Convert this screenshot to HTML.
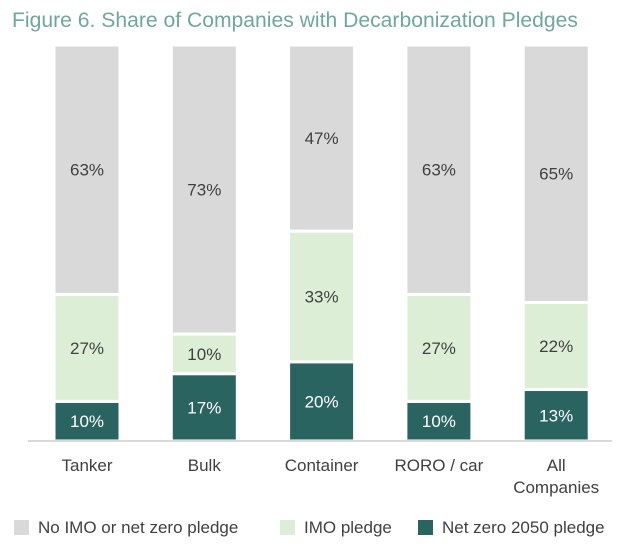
<!DOCTYPE html>
<html><head><meta charset="utf-8"><style>
body{margin:0;background:#fff;}
svg{display:block;font-family:"Liberation Sans",sans-serif;}
</style></head><body>
<svg id="chart" width="633" height="552" viewBox="0 0 633 552">
<text x="12" y="27" font-size="21" fill="#6fa89b" textLength="566" lengthAdjust="spacingAndGlyphs">Figure 6. Share of Companies with Decarbonization Pledges</text>
<g id="bars"></g>
<line x1="28" y1="441" x2="612" y2="441" stroke="#d9d9d9" stroke-width="2"/>
<g>
<g><rect x="14" y="520" width="15" height="15" fill="#d9d9d9"/><text x="38" y="533" font-size="17" fill="#404040">No IMO or net zero pledge</text></g>
<g><rect x="280" y="520" width="15" height="15" fill="#dcefd6"/><text x="304" y="533" font-size="17" fill="#404040">IMO pledge</text></g>
<g><rect x="418" y="520" width="15" height="15" fill="#2a6461"/><text x="442" y="533" font-size="17" fill="#404040">Net zero 2050 pledge</text></g>
</g>
</svg>
<script>
const categories=[["Tanker"],["Bulk"],["Container"],["RORO / car"],["All","Companies"]];
const netZero=[10,17,20,10,13];
const imo=[27,10,33,27,22];
const noPledge=[63,73,47,63,65];
const svgG=document.getElementById('bars');
const NS='http://www.w3.org/2000/svg';
const baseY=441, yTop=45, x0=54, step=117.3, bw=66;
function yScale(v){return baseY-(baseY-yTop)*v/100;}
const series=[{vals:netZero,fill:'#2a6461',tc:'#ffffff',n:'net-zero'},{vals:imo,fill:'#dcefd6',tc:'#404040',n:'imo'},{vals:noPledge,fill:'#d9d9d9',tc:'#404040',n:'no-pledge'}];
categories.forEach((c,i)=>{
  const x=x0+i*step;
  let cum=0;
  series.forEach(s=>{
    const v=s.vals[i];
    const y1=yScale(cum), y2=yScale(cum+v);
    const r=document.createElementNS(NS,'rect');
    r.setAttribute('x',x);r.setAttribute('y',y2);r.setAttribute('width',bw);r.setAttribute('height',y1-y2);
    r.setAttribute('fill',s.fill);r.setAttribute('stroke','#fff');r.setAttribute('stroke-width','3');
    
    
    svgG.appendChild(r);
    const t=document.createElementNS(NS,'text');
    t.setAttribute('x',x+bw/2);t.setAttribute('y',(y1+y2)/2+6);t.setAttribute('text-anchor','middle');
    t.setAttribute('font-size','17');t.setAttribute('fill',s.tc);t.textContent=v+'%';
    
    
    svgG.appendChild(t);
    cum+=v;
  });
  c.forEach((line,j)=>{
    const t=document.createElementNS(NS,'text');
    t.setAttribute('x',x+bw/2);t.setAttribute('y',471+j*22);t.setAttribute('text-anchor','middle');
    t.setAttribute('font-size','17');t.setAttribute('fill','#404040');t.textContent=line;
    
    
    svgG.appendChild(t);
  });
});
</script>
</body></html>
